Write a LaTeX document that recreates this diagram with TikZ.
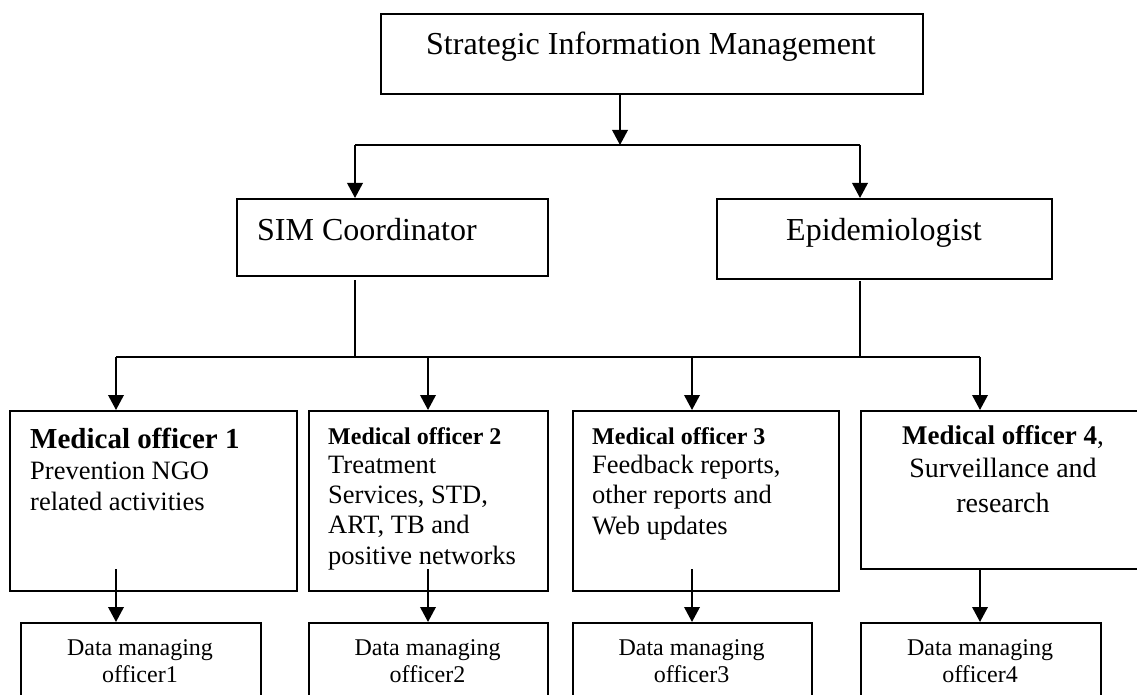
\documentclass[tikz,border=0pt]{standalone}
\usepackage{fontspec}
\setmainfont{Liberation Serif}
\usetikzlibrary{arrows.meta}
\begin{document}
\begin{tikzpicture}[x=1pt,y=-1pt,
  box/.style={draw, line width=2pt, rectangle, inner sep=0pt, anchor=north west},
  conn/.style={line width=2pt},
  arr/.style={conn, -{Triangle[length=15pt,width=15.5pt]}},
  drop/.style={line width=1.8pt},
  txt/.style={inner sep=0pt},
  big/.style={txt, font=\fontsize{32}{38}\selectfont},
  headA/.style={txt, font=\bfseries\fontsize{29}{34}\selectfont},
  headB/.style={txt, font=\bfseries\fontsize{24}{29}\selectfont},
  headC/.style={txt, font=\fontsize{27}{32}\selectfont},
  body/.style={txt, font=\fontsize{26.5}{31}\selectfont},
  bodyC/.style={txt, font=\fontsize{28}{33}\selectfont},
  small/.style={txt, font=\fontsize{24}{28}\selectfont}]
\useasboundingbox (0,0) rectangle (1137,695);
\clip (0,0) rectangle (1137,695);

% boxes
\node[box, minimum width=542pt, minimum height=80pt]  (top) at (380,13) {};
\node[box, minimum width=311pt, minimum height=77pt]  (sim) at (236,198) {};
\node[box, minimum width=335pt, minimum height=80pt]  (epi) at (716,198) {};
\node[box, minimum width=287pt, minimum height=180pt] (mo1) at (9,410) {};
\node[box, minimum width=239pt, minimum height=180pt] (mo2) at (308,410) {};
\node[box, minimum width=266pt, minimum height=180pt] (mo3) at (572,410) {};
\node[box, minimum width=288pt, minimum height=158pt] (mo4) at (860,410) {};
\node[box, minimum width=240pt, minimum height=90pt]  (dm1) at (20,622) {};
\node[box, minimum width=239pt, minimum height=90pt]  (dm2) at (308,622) {};
\node[box, minimum width=239pt, minimum height=90pt]  (dm3) at (572,622) {};
\node[box, minimum width=240pt, minimum height=90pt]  (dm4) at (860,622) {};

% texts
\node[big, anchor=base] (ttop) at (651,55) {Strategic Information Management};
\node[big, anchor=base west] (tsim) at (257,240) {SIM Coordinator};
\node[big, anchor=base] (tepi) at (884,240) {Epidemiologist};

\node[headA, anchor=base west] (t1a) at (30,448) {Medical officer 1};
\node[body, anchor=base west] (t1b) at (30,479) {Prevention NGO};
\node[body, anchor=base west] (t1c) at (30,510) {related activities};

\node[headB, anchor=base west] (t2a) at (328,444) {Medical officer 2};
\node[body, anchor=base west] (t2b) at (328,473) {Treatment};
\node[body, anchor=base west] (t2c) at (328,503) {Services, STD,};
\node[body, anchor=base west] (t2d) at (328,533) {ART, TB and};
\node[body, anchor=base west] (t2e) at (328,564) {positive networks};

\node[headB, anchor=base west] (t3a) at (592,444) {Medical officer 3};
\node[body, anchor=base west] (t3b) at (592,473) {Feedback reports,};
\node[body, anchor=base west] (t3c) at (592,503) {other reports and};
\node[body, anchor=base west] (t3d) at (592,534) {Web updates};

\node[headC, anchor=base] (t4a) at (1003,444) {\textbf{Medical officer 4},};
\node[bodyC, anchor=base] (t4b) at (1003,477) {Surveillance and};
\node[bodyC, anchor=base] (t4c) at (1003,512) {research};

\node[small, anchor=base] (d1a) at (140,655) {Data managing};
\node[small, anchor=base] (d1b) at (140,682) {officer1};
\node[small, anchor=base] (d2a) at (427.5,655) {Data managing};
\node[small, anchor=base] (d2b) at (427.5,682) {officer2};
\node[small, anchor=base] (d3a) at (691.5,655) {Data managing};
\node[small, anchor=base] (d3b) at (691.5,682) {officer3};
\node[small, anchor=base] (d4a) at (980,655) {Data managing};
\node[small, anchor=base] (d4b) at (980,682) {officer4};

% first level branching
\coordinate (j1)  at (620,145);
\coordinate (j1l) at (355,145);
\coordinate (j1r) at (860,145);
\draw[arr] (top.south -| j1) -- (j1);
\draw[conn] (j1l) -- (j1r);
\draw[arr] (j1l) -- (j1l |- sim.north);
\draw[arr] (j1r) -- (j1r |- epi.north);

% second level branching
\coordinate (j2l) at (116,357);
\coordinate (j2r) at (980,357);
\draw[drop] ([yshift=-3pt]sim.south -| j1l) -- (j1l |- j2l);
\draw[drop] ([yshift=-1pt]epi.south -| j1r) -- (j1r |- j2l);
\draw[conn] (j2l) -- (j2r);
\coordinate (b2) at (428,357);
\coordinate (b3) at (692,357);
\draw[arr] (j2l) -- (j2l |- mo1.north);
\draw[arr] (b2) -- (b2 |- mo2.north);
\draw[arr] (b3) -- (b3 |- mo3.north);
\draw[arr] (j2r) -- (j2r |- mo4.north);

% officers to data managers
\coordinate (s1) at (116,569);
\coordinate (s2) at (428,569);
\coordinate (s3) at (692,569);
\draw[arr] (s1) -- (s1 |- dm1.north);
\draw[arr] (s2) -- (s2 |- dm2.north);
\draw[arr] (s3) -- (s3 |- dm3.north);
\draw[arr] (mo4.south -| j2r) -- (j2r |- dm4.north);
\end{tikzpicture}
\end{document}
